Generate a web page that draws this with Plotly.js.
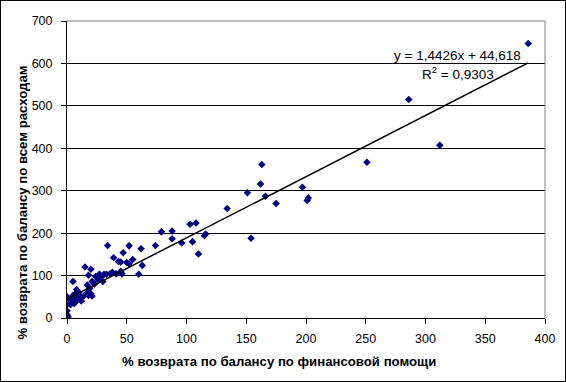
<!DOCTYPE html>
<html>
<head>
<meta charset="utf-8">
<script src="https://cdn.plot.ly/plotly-3.0.1.min.js"></script>
<style>
html,body{margin:0;padding:0;background:#fff;}
#chart{width:566px;height:382px;box-sizing:border-box;border:1px solid #000;}
</style>
</head>
<body>
<div id="chart"></div>
<script>
// Data
const finAidReturn = [386,286,312,251,163,162,151,166,197,175,202,201,134,154,108,103,116,115,79,88,88,96,105,110,74,34,52,62,47,55,39,43,45,50,52,63,60,45,38,46,41,36,33,27,29,24,15,20,18,5,21,26,30,23,17,19,20,17,18,21,8,7,10,5,3,6,9,11,7,3,0,0,0,0,1,31,28,14,6,12];
const allExpReturn = [647,515,407,367,362,316,295,287,308,270,283,277,258,188,224,221,198,194,203,205,187,177,180,151,171,171,170,163,154,138,142,133,132,131,128,124,103,110,108,104,104,104,103,103,98,98,120,115,101,86,86,90,86,80,78,70,57,60,53,52,67,57,60,53,41,44,46,50,37,31,50,31,17,8,3,103,100,52,34,40];
const trendSlope = 1.4426;
const trendIntercept = 44.618;
const trendR2 = 0.9303;
const xTicks = [0,50,100,150,200,250,300,350,400];
const yTicks = [0,100,200,300,400,500,600,700];
const xTitle = "% возврата по балансу по финансовой помощи";
const yTitle = "% возврата по балансу по всем расходам";

const fmt = (v) => String(v).replace('.', ',');
const xMin = Math.min(...finAidReturn), xMax = Math.max(...finAidReturn);

const font = "Liberation Sans, Arial, sans-serif";

const traces = [
  {
    x: finAidReturn, y: allExpReturn, type: 'scatter', mode: 'markers',
    marker: {symbol: 'diamond', size: 5.8, color: '#000080', line: {width: 0}},
    hoverinfo: 'skip', showlegend: false
  },
  {
    x: [xMin, xMax],
    y: [trendSlope * xMin + trendIntercept, trendSlope * xMax + trendIntercept],
    type: 'scatter', mode: 'lines',
    line: {color: '#000', width: 1.5},
    hoverinfo: 'skip', showlegend: false
  }
];

const layout = {
  width: 564, height: 380,
  margin: {l: 65.5, r: 20, t: 20, b: 63},
  paper_bgcolor: '#fff', plot_bgcolor: '#fff',
  font: {family: font, size: 12, color: '#000'},
  xaxis: {
    range: [0, 400], tickvals: xTicks, ticktext: xTicks.map(String),
    showgrid: false, zeroline: false, showline: true, linecolor: '#000', linewidth: 1,
    ticks: 'outside', ticklen: 5, tickcolor: '#000', tickwidth: 1,
    ticklabelstandoff: 4,
    tickfont: {family: font, size: 12.5, color: '#000'}, fixedrange: true
  },
  yaxis: {
    range: [0, 700], tickvals: yTicks, ticktext: yTicks.map(String),
    showgrid: true, gridcolor: '#000', gridwidth: 1,
    zeroline: false, showline: true, linecolor: '#000', linewidth: 1,
    ticks: 'outside', ticklen: 5, tickcolor: '#000', tickwidth: 1,
    ticklabelstandoff: 6,
    tickfont: {family: font, size: 12.5, color: '#000'}, fixedrange: true
  },
  shapes: [
    {type: 'line', xref: 'paper', yref: 'paper', x0: 0, x1: 1, y0: 1, y1: 1, line: {color: '#808080', width: 1}},
    {type: 'line', xref: 'paper', yref: 'paper', x0: 1, x1: 1, y0: 0, y1: 1, line: {color: '#808080', width: 1}}
  ],
  annotations: [
    {text: xTitle, xref: 'paper', yref: 'paper', x: 0.444, y: -0.145, xanchor: 'center', yanchor: 'middle',
     showarrow: false, font: {family: font, size: 13.2, color: '#000', weight: 'bold'}},
    {text: yTitle, xref: 'paper', yref: 'paper', x: -0.093, y: 0.387, xanchor: 'center', yanchor: 'middle',
     textangle: -90, showarrow: false, font: {family: font, size: 13.2, color: '#000', weight: 'bold'}},
    {text: 'y = ' + fmt(trendSlope) + 'x + ' + fmt(trendIntercept), xref: 'x', yref: 'y', x: 326.5, y: 619,
     xanchor: 'center', yanchor: 'middle', showarrow: false, font: {family: font, size: 13.5, color: '#000'}},
    {text: 'R<sup>2</sup> = ' + fmt(trendR2), xref: 'x', yref: 'y', x: 327, y: 577,
     xanchor: 'center', yanchor: 'middle', showarrow: false, font: {family: font, size: 13.5, color: '#000'}}
  ]
};

Plotly.newPlot('chart', traces, layout, {displayModeBar: false, staticPlot: true});
</script>
</body>
</html>
